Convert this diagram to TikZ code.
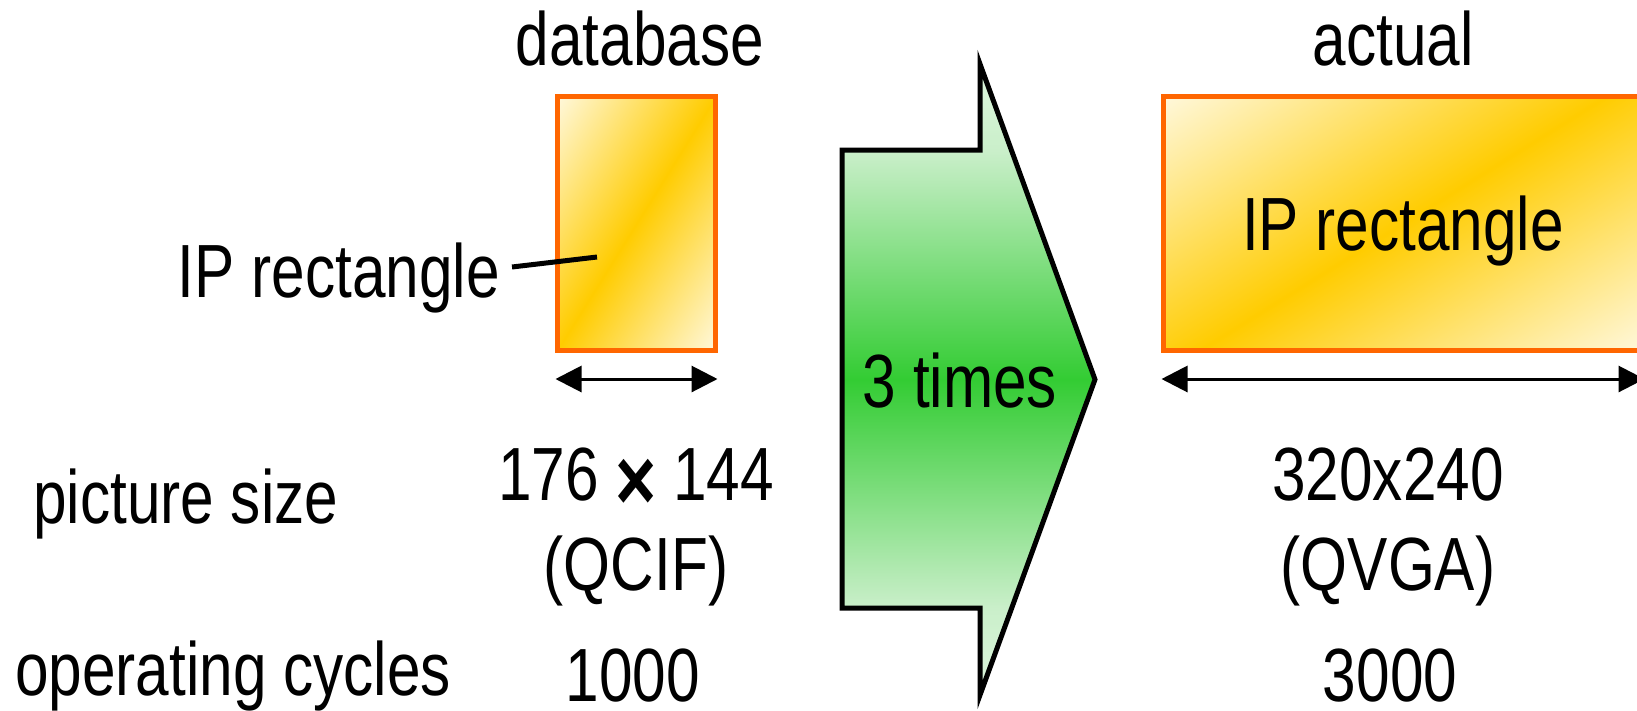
\documentclass[tikz,border=0pt]{standalone}
\usepackage{fontspec}
\setmainfont{Liberation Sans}[FakeStretch=0.8]
\usetikzlibrary{arrows.meta}

\definecolor{cream}{HTML}{FFF8DC}
\definecolor{gold}{HTML}{FFCC00}
\definecolor{rim}{HTML}{FF6600}
\definecolor{gTop}{HTML}{DDF6DD}
\definecolor{gLight}{HTML}{CAEFCA}
\definecolor{gMid}{HTML}{33CC33}

% green fill of the scaling arrow: pale head, strong green in the middle of the body
\pgfdeclareverticalshading{arrowgreen}{100bp}{color(0bp)=(gTop); color(25bp)=(gTop); color(31.9bp)=(gLight); color(50bp)=(gMid); color(68.1bp)=(gLight); color(75bp)=(gTop); color(100bp)=(gTop)}

\begin{document}
\begin{tikzpicture}[x=1pt,y=-1pt,
  lbl/.style={inner sep=0pt, font=\fontsize{75.4}{90}\selectfont},
  boxshape/.style={inner sep=0pt, outer sep=0pt},
  rimline/.style={draw=rim, line width=5pt},
  goldband/.style={top color=cream, bottom color=cream, middle color=gold},
  dim/.style={line width=3pt,
    {Triangle[length=26pt,width=26pt]}-{Triangle[length=26pt,width=26pt]}},
  leader/.style={line width=5pt},
  bigarrow/.style={draw=black, line width=5pt, shading=arrowgreen}
]
\useasboundingbox (0,0) rectangle (1637,710);
\fill[white] (0,0) rectangle (1637,710);
\clip (0,0) rectangle (1637,710);

% column headings
\node[lbl, anchor=base] (dbase) at (640,65) {database};
\node[lbl, anchor=base] (actual) at (1393,65) {actual};

% IP rectangles: frames
\path node[boxshape, minimum width=158pt, minimum height=254pt] (rectL) at (636.5,223.5) {};
\path node[boxshape, minimum width=479pt, minimum height=254pt] (rectR) at (1403,223.5) {};

% gold band along the rising diagonal of each rectangle
\begin{scope}
  \clip (rectL.south west) rectangle (rectL.north east);
  \shade[goldband, transform canvas={rotate around={58:(rectL.center)}}]
    ([xshift=-300pt,yshift=-134pt]rectL.center) rectangle ([xshift=300pt,yshift=134pt]rectL.center);
\end{scope}
\begin{scope}
  \clip (rectR.south west) rectangle (rectR.north east);
  \shade[goldband, transform canvas={rotate around={32:(rectR.center)}}]
    ([xshift=-600pt,yshift=-235pt]rectR.center) rectangle ([xshift=600pt,yshift=235pt]rectR.center);
\end{scope}
\draw[rimline] (rectL.south west) rectangle (rectL.north east);
\draw[rimline] (rectR.south west) rectangle (rectR.north east);

\node[lbl, anchor=base east] (ipL) at (500,297) {IP rectangle};
\node[lbl, anchor=base] (ipR) at (1403,250) {IP rectangle};
\draw[leader] ([xshift=12pt,yshift=30pt]ipL.base east) -- ([xshift=-39.5pt,yshift=-33.5pt]rectL.center);

% width markers
\draw[dim] ([xshift=-2pt,yshift=-28.5pt]rectL.south west) -- ([xshift=2pt,yshift=-28.5pt]rectL.south east);
\draw[dim] ([xshift=-2pt,yshift=-28.5pt]rectR.south west) -- ([xshift=2pt,yshift=-28.5pt]rectR.south east);

% scaling arrow
\draw[bigarrow] (842,150) -- (980,150) -- (980,64) -- (1095,379.5) -- (980,695)
  -- (980,608) -- (842,608) -- cycle;
\node[lbl, anchor=base] (times) at (960,407) {3 times};

% table rows
\node[lbl, anchor=base west] (psize) at (33,523) {picture size};
\node[lbl, anchor=base west] (opcyc) at (15,695) {operating cycles};

\node[lbl, anchor=base] (qcifDim) at (636,500) {176 \raisebox{-10pt}{\fontsize{88}{90}\selectfont\bfseries ×} 144};
\node[lbl, anchor=base] (qcif) at (636,590) {(QCIF)};
\node[lbl, anchor=base] (cycL) at (633,701) {1000};

\node[lbl, anchor=base] (qvgaDim) at (1388,500) {320x240};
\node[lbl, anchor=base] (qvga) at (1388,590) {(QVGA)};
\node[lbl, anchor=base] (cycR) at (1390,701) {3000};
\end{tikzpicture}
\end{document}
